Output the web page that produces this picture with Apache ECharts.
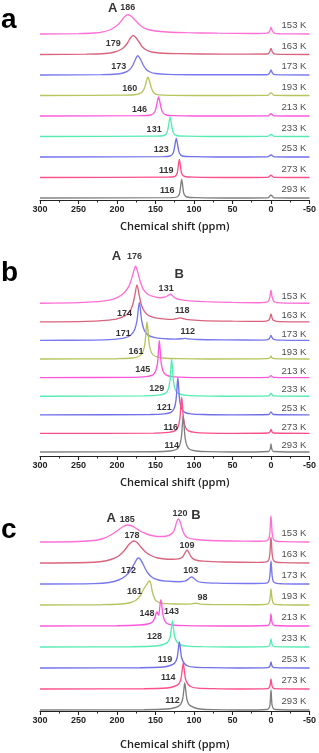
<!DOCTYPE html>
<html><head><meta charset="utf-8">
<script src="https://cdn.jsdelivr.net/npm/echarts@6/dist/echarts.min.js"></script>
<style>html,body{margin:0;padding:0;background:#fff}#c{width:319px;height:753px}</style>
</head><body><div id="c"></div>
<script>
// ---------- data ----------
const temps = ['153 K','163 K','173 K','193 K','213 K','233 K','253 K','273 K','293 K'];
const ticks = [300, 250, 200, 150, 100, 50, 0, -50];

// panel a spectra: [ppm, intensity]
const a153 = [[300,0],[250,0.4],[230,1],[218,2.2],[208,4.5],[200,8.5],[195,12.5],[191,16.5],[186,19.3],[181,17.5],[176,13.5],[171,9.5],[166,6.5],[160,4.5],[150,3],[135,2],[110,1.3],[70,0.8],[20,0.5],[5,0.8],[2,2.5],[0,6.5],[-2,2.5],[-5,0.6],[-12,0.2],[-50,0]];
const a163 = [[300,0],[240,0.3],[215,1],[203,2.5],[195,5],[190,8],[186,12],[183,16],[179,19],[175,16.5],[171,12],[167,7.5],[162,4.5],[155,2.5],[145,1.5],[120,0.8],[60,0.4],[5,0.5],[2,2.2],[0,6],[-2,2.2],[-5,0.4],[-50,0]];
const a173 = [[300,0],[220,0.3],[200,1],[190,2.5],[184,5],[180,9],[177,14],[173,19.3],[169,15],[166,10],[162,5.5],[157,3],[150,1.5],[135,0.7],[90,0.3],[5,0.3],[2,1.8],[0,5],[-2,1.8],[-5,0.3],[-50,0]];
const a193 = [[300,0],[190,0.3],[175,1],[168,3],[164,8],[162,14],[160,18.3],[158,15],[156,9],[153,3.5],[149,1.2],[140,0.4],[100,0],[4,0.2],[0,2.7],[-4,0.2],[-50,0]];
const a213 = [[300,0],[170,0.3],[156,1],[151,4],[148.5,11],[146,19],[143.5,11],[141,4],[136,1],[125,0.3],[100,0],[4,0.2],[0,2.3],[-4,0.2],[-50,0]];
const a233 = [[300,0],[150,0.3],[139,1],[135,4],[133,11],[131,19.3],[129,11],[127,4],[123,1],[110,0.3],[80,0],[4,0.2],[0,2],[-4,0.2],[-50,0]];
const a253 = [[300,0],[140,0.3],[131,1],[127,4],[125,11],[123,18.7],[121,11],[119,4],[115,1],[100,0.3],[70,0],[4,0.2],[0,2],[-4,0.2],[-50,0]];
const a273 = [[300,0],[135,0.3],[125,1],[122,4],[120.5,11],[119,18],[117.5,11],[116,4],[112,1],[100,0.3],[60,0],[4,0.2],[0,2.3],[-4,0.2],[-50,0]];
const a293 = [[300,0],[130,0.3],[122,1],[119,4],[117.5,11],[116,18.7],[114.5,11],[113,4],[109,1],[95,0.3],[60,0],[4,0.2],[0,3],[-4,0.2],[-50,0]];

// panel b spectra
const b153 = [[300,0],[250,0.5],[225,1.5],[210,3],[200,5.5],[192,9.5],[186,15],[182,22],[179,30],[176,37],[173,31],[170,22],[166,14],[160,9],[152,6.5],[145,5.5],[138,6],[134,7.5],[131,9],[128,7.5],[124,5],[118,3.5],[105,2.3],[85,1.5],[50,0.8],[15,0.5],[4,1.5],[1.5,6],[0,13],[-1.5,6],[-4,1.5],[-12,0.3],[-50,0]];
const b163 = [[300,0],[240,0.5],[215,1.5],[200,3],[190,6],[184,10],[180,16],[177,26],[174,37],[171,26],[168,16],[164,10],[158,6],[150,4],[140,3],[128,2.5],[121,3.5],[118,4],[115,3.5],[108,2.2],[90,1.2],[50,0.6],[10,0.4],[3,1.5],[1,5],[0,8],[-1,5],[-3,1.5],[-10,0.2],[-50,0]];
const b173 = [[300,0],[230,0.3],[205,1],[190,2.5],[182,5.5],[177,11],[174,20],[171,38],[168,20],[165,11],[160,5.5],[152,3],[140,1.8],[125,1.3],[115,1.7],[112,2],[108,1.6],[95,0.9],[60,0.5],[10,0.3],[3,1.2],[1,3.5],[0,5],[-1,3.5],[-3,1.2],[-10,0.2],[-50,0]];
const b193 = [[300,0],[200,0.3],[180,1],[172,2.5],[167,6],[164,14],[162.5,26],[161,37],[159.5,26],[158,14],[155,6],[150,2.5],[140,1],[120,0.3],[80,0],[4,0.3],[1,1.5],[0,3],[-1,1.5],[-4,0.3],[-50,0]];
const b213 = [[300,0],[180,0.3],[162,1],[154,2.5],[150,6],[147.5,14],[146,28],[145,37],[144,28],[142.5,14],[140,6],[136,2.5],[128,1],[110,0.3],[70,0],[3,0.3],[0,2],[-3,0.3],[-50,0]];
const b233 = [[300,0],[165,0.3],[146,1],[138,2.5],[134,6],[131.5,14],[130,28],[129,37],[128,28],[126.5,14],[124,6],[120,2.5],[112,1],[95,0.3],[60,0],[3,0.3],[0,3],[-3,0.3],[-50,0]];
const b253 = [[300,0],[157,0.3],[138,1],[130,2.5],[126,6],[123.5,14],[122,28],[121,37],[120,28],[118.5,14],[116,6],[112,2.5],[104,1],[88,0.3],[50,0],[3,0.3],[0,3],[-3,0.3],[-50,0]];
const b273 = [[300,0],[152,0.3],[133,1],[125,2.5],[121,6],[118.5,14],[117,28],[116,36],[115,28],[113.5,14],[111,6],[107,2.5],[99,1],[83,0.3],[50,0],[3,0.4],[1,2],[0,4],[-1,2],[-3,0.4],[-50,0]];
const b293 = [[300,0],[150,0.3],[131,1],[123,2.5],[119,6],[116.5,14],[115,28],[114,36],[113,28],[111.5,14],[109,6],[105,2.5],[97,1],[81,0.3],[50,0],[3,0.5],[1,3],[0,8],[-1,3],[-3,0.5],[-50,0]];

// panel c spectra
const c153 = [[300,0],[250,0.5],[230,1.5],[218,3.5],[208,7],[200,11],[193,15],[187,17],[182,16.5],[176,14],[170,11],[163,8.5],[155,6.5],[147,5.5],[140,5.5],[133,6.5],[128,9],[125,13],[122.5,20],[120,23],[117.5,19],[115,12],[112,7],[107,4],[98,2.5],[80,1.5],[50,1],[20,0.8],[6,1.2],[3,3],[1.5,9],[0,26],[-1.5,9],[-3,3],[-6,1],[-15,0.3],[-50,0]];
const c163 = [[300,0],[240,0.5],[220,1.5],[208,3.5],[198,7],[191,12],[185,18],[181,21],[178,22],[174,20.5],[169,16],[163,11],[156,7.5],[147,5],[138,4],[128,3.8],[120,4.2],[115,6],[112,9.5],[109,13],[106,9.5],[103,5.5],[98,3],[88,1.8],[60,1],[20,0.7],[6,1.2],[3,3],[1.5,9],[0,26],[-1.5,9],[-3,3],[-6,1],[-15,0.3],[-50,0]];
const c173 = [[300,0],[230,0.4],[210,1.5],[198,4],[189,8],[182,14],[177,21],[174,25],[172,26],[169,24],[165,18],[160,11],[154,6.5],[146,4],[135,2.8],[120,2.3],[112,2.8],[108,4.5],[105,6.5],[103,7],[100,5.5],[96,3],[90,1.6],[70,0.8],[30,0.5],[6,0.9],[3,2.5],[1.5,8],[0,23],[-1.5,8],[-3,2.5],[-6,0.8],[-15,0.2],[-50,0]];
const c193 = [[300,0],[220,0.3],[195,1],[182,2.5],[175,5],[170,9],[166,15],[163,19],[161,21],[159,23.5],[157.5,24],[156,21],[154,13],[151,6],[147,3],[140,1.6],[125,1],[105,0.9],[98,1.8],[92,0.9],[60,0.4],[20,0.3],[5,0.8],[2.5,2.5],[1.2,7],[0,16],[-1.2,7],[-2.5,2.5],[-5,0.7],[-15,0.2],[-50,0]];
const c213 = [[300,0],[200,0.3],[170,1],[160,2],[154,4],[151,8],[149,13],[148,14],[147,12],[146,11],[145,15],[144,22],[143,26],[142,22],[140.5,12],[138.5,6],[135,2.5],[128,1],[110,0.3],[60,0],[4,0.5],[2,2],[1,5],[0,12],[-1,5],[-2,2],[-4,0.5],[-50,0]];
const c233 = [[300,0],[180,0.3],[150,1],[140,2.5],[134,5],[131,10],[129.5,18],[128,26],[126.5,18],[125,10],[122,5],[117,2],[108,0.8],[90,0.3],[50,0],[4,0.4],[2,1.5],[1,4],[0,8],[-1,4],[-2,1.5],[-4,0.4],[-50,0]];
const c253 = [[300,0],[170,0.3],[140,1],[131,2.5],[125,5],[122,10],[120.5,18],[119,26],[117.5,18],[116,10],[113,5],[108,2],[100,0.8],[80,0.3],[40,0],[4,0.3],[2,1.2],[1,3],[0,6],[-1,3],[-2,1.2],[-4,0.3],[-50,0]];
const c273 = [[300,0],[165,0.3],[135,1],[126,2.5],[120,5],[117,10],[115.5,18],[114,26],[112.5,18],[111,10],[108,5],[103,2],[95,0.8],[75,0.3],[40,0],[4,0.4],[2,1.8],[1,4.5],[0,10],[-1,4.5],[-2,1.8],[-4,0.4],[-50,0]];
const c293 = [[300,0],[165,0.3],[135,1],[124,2.5],[118,5],[115,10],[113.5,18],[112,27],[110.5,18],[109,10],[106,5],[100,2.5],[92,1],[75,0.3],[40,0],[5,0.5],[2.5,2],[1.2,6],[0,20],[-1.2,6],[-2.5,2],[-5,0.5],[-50,0]];

// labelled peak positions (ppm), one per temperature (null = none)
const peaksA_a = [186,179,173,160,146,131,123,119,116];
const peaksA_b = [176,174,171,161,145,129,121,116,114];
const peaksB_b = [131,118,112,null,null,null,null,null,null];
const peaksA_c = [185,178,172,161,148,128,119,114,112];
const peaksB_c = [120,109,103,98,143,null,null,null,null];

// ---------- styles / layout ----------
const colors = ['#ff6fd6','#d9647e','#7878ee','#b7c45e','#ff57dc','#55ecb2','#6f6fea','#ff4f88','#808080'];
const FONT = "'Liberation Sans', Arial, sans-serif";

const panels = [
  { letter:'a', top:0, letterY:22,
    spectra:[a153,a163,a173,a193,a213,a233,a253,a273,a293],
    base:[166,145.5,125,104.5,84,63.5,43,22.5,2], tdy:-8.5, nameGap:21,
    A:peaksA_a, Adx:[0,-20,-19,-18,-19,-16,-15,-13,-14.5], Ady:[-26,-10.5,-8,-6.5,-6,-6.5,-7,-6.5,-7],
    B:null,
    letA:[-15,-26], letB:null },
  { letter:'b', top:256, letterY:275,
    spectra:[b153,b163,b173,b193,b213,b233,b253,b273,b293],
    base:[152.8,134.2,115.6,97,78.4,59.8,41.2,22.6,4], tdy:-6.5, nameGap:21,
    A:peaksA_b, Adx:[-1,-12.6,-16,-11,-16.7,-15,-13.6,-11,-11.4], Ady:[-46.5,-8.5,-7,-7.3,-7.6,-7.2,-7.5,-6,-6],
    B:peaksB_b, Bdx:[-4,2,3], Bdy:[-15,-11,-8.7],
    letA:[-19,-46.5], letB:[9,-29] },
  { letter:'c', top:511, letterY:532,
    spectra:[c153,c163,c173,c193,c213,c233,c253,c273,c293],
    base:[169,148,127,106,85,64,43,22,1], tdy:-8.5, nameGap:28,
    A:peaksA_c, Adx:[-1.3,-2,-10,-12.6,-10,-18,-14.4,-15,-12.3], Ady:[-22.7,-27.3,-13.3,-13.3,-12,-10.3,-8,-11.7,-9],
    B:peaksB_c, Bdx:[1.3,0,-1,7,10.7], Bdy:[-28,-17,-13.3,-7.7,-14.3],
    letA:[-17.3,-23.7], letB:[17.3,-27] }
];

const grids = [], xAxes = [], yAxes = [], series = [], graphics = [];
panels.forEach((p, gi) => {
  grids.push({ left:40, right:8, top:p.top, height:200 });
  xAxes.push({
    gridIndex:gi, type:'value', inverse:true, min:-50, max:300, interval:50,
    axisLine:{ onZero:false, lineStyle:{ color:'#222', width:1.2 } },
    axisTick:{ length:4, lineStyle:{ color:'#222', width:1.1 } },
    minorTick:{ show:true, splitNumber:2, length:2.5, lineStyle:{ color:'#222' } },
    splitLine:{ show:false }, minorSplitLine:{ show:false },
    axisLabel:{ fontSize:9, fontWeight:'bold', color:'#222', margin:5, fontFamily:FONT,
      formatter: v => ticks.includes(v) ? String(v) : '' },
    name:'Chemical shift (ppm)', nameLocation:'middle', nameGap:p.nameGap,
    nameTextStyle:{ fontFamily:"'Open Sans', sans-serif", fontSize:11, fontWeight:600, color:'#222' }
  });
  yAxes.push({ gridIndex:gi, type:'value', min:0, max:200, show:false });

  p.spectra.forEach((sp, ti) => {
    series.push({
      type:'line', xAxisIndex:gi, yAxisIndex:gi, silent:true, animation:false,
      data: sp.map(d => [d[0], p.base[ti] + d[1]]),
      showSymbol:false, symbol:'none', smooth:0.3, clip:false, z:2+ti,
      lineStyle:{ width:1.35, color:colors[ti] }, itemStyle:{ color:colors[ti] }
    });
  });

  const lab = [];
  temps.forEach((t, ti) => lab.push({ value:[-50, p.base[ti]],
    label:{ formatter:t, offset:[-15.5, p.tdy], fontSize:9.5, color:'#1a1a1a', fontWeight:'normal' } }));
  p.A.forEach((v, ti) => lab.push({ value:[v, p.base[ti]],
    label:{ formatter:String(v), offset:[p.Adx[ti], p.Ady[ti]] } }));
  if (p.B) p.B.forEach((v, ti) => { if (v !== null) lab.push({ value:[v, p.base[ti]],
    label:{ formatter:String(v), offset:[p.Bdx[ti], p.Bdy[ti]] } }); });
  lab.push({ value:[p.A[0], p.base[0]], label:{ formatter:'A', fontSize:13, offset:p.letA } });
  if (p.letB) lab.push({ value:[p.B[0], p.base[0]], label:{ formatter:'B', fontSize:13, offset:p.letB } });

  series.push({
    type:'scatter', xAxisIndex:gi, yAxisIndex:gi, silent:true, animation:false, z:30,
    symbolSize:1, itemStyle:{ color:'rgba(0,0,0,0)' }, clip:false,
    data: lab,
    label:{ show:true, position:'inside', align:'center', verticalAlign:'middle',
      fontFamily:FONT, fontSize:9, fontWeight:'bold', color:'#000' }
  });

  graphics.push({ type:'text', left:1, top:p.letterY - 16, silent:true,
    style:{ text:p.letter, font:"bold 28px 'Liberation Sans', Arial, sans-serif", fill:'#000' } });
});

const chart = echarts.init(document.getElementById('c'), null, { renderer:'canvas' });
chart.setOption({
  animation:false,
  grid:grids, xAxis:xAxes, yAxis:yAxes, series:series, graphic:graphics
});
</script>
</body></html>
